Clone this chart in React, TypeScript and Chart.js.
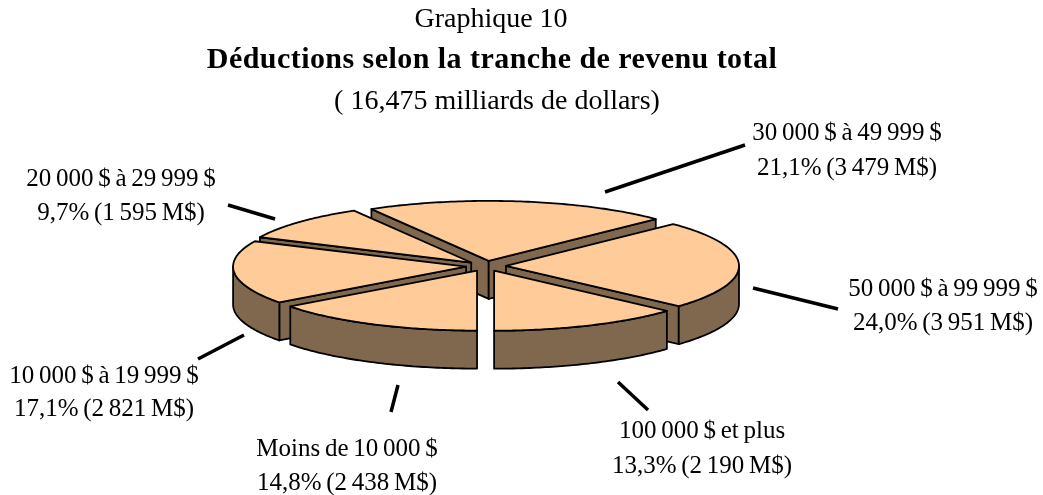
import React, { useEffect, useRef } from "react";
import { Chart, registerables } from "chart.js";

Chart.register(...registerables);

const categories = ["Moins de 10 000 $", "10 000 $ à 19 999 $", "20 000 $ à 29 999 $", "30 000 $ à 49 999 $", "50 000 $ à 99 999 $", "100 000 $ et plus"];
const values = [2438, 2821, 1595, 3479, 3951, 2190];
const valueLabels = ["14,8% (2 438 M$)", "17,1% (2 821 M$)", "9,7% (1 595 M$)", "21,1% (3 479 M$)", "24,0% (3 951 M$)", "13,3% (2 190 M$)"];
const titleLines = ["Graphique 10", "Déductions selon la tranche de revenu total", "( 16,475 milliards de dollars)"];

// layout only
const SQUASH = 0.2575;
const DEPTH = 38;
const EXPLODE = 20;
const TOP = "#FFCC99";
const SIDE = "#80684F";
const FONT = '"Liberation Serif", serif';
const labelCentres = [[347, 449, 483], [104, 376, 409], [121, 179, 213], [847, 133, 168], [943, 289, 323], [702, 431, 466]];
const leaders = [[398, 385, 391, 412], [244, 335, 198, 359], [275, 219, 228, 205], [605, 192, 745, 145], [753, 288, 838, 309], [618, 382, 648, 410]];

const pie3d = {
  id: "pie3d",
  beforeDatasetsDraw(chart: any) {
    const ctx = chart.ctx;
    const arcs: any[] = chart.getDatasetMeta(0).data;
    const order = arcs.slice().sort((a, b) => {
      const ma = (a.startAngle + a.endAngle) / 2, mb = (b.startAngle + b.endAngle) / 2;
      return Math.sin(ma) - Math.sin(mb);
    });
    for (const arc of order) {
      const { x: cx, y: cy, startAngle: s, endAngle: e, outerRadius: R } = arc;
      const mid = (s + e) / 2;
      const off = EXPLODE;
      const px = (a: number, r: number) => cx + Math.cos(mid) * off + r * Math.cos(a);
      const py = (a: number, r: number) => cy + SQUASH * (Math.sin(mid) * off + r * Math.sin(a));
      const style = () => {
        ctx.lineWidth = 1.8;
        ctx.lineJoin = "round";
        ctx.strokeStyle = "#000";
      };
      const wall = (a: number) => {
        ctx.beginPath();
        ctx.moveTo(px(a, 0), py(a, 0));
        ctx.lineTo(px(a, R), py(a, R));
        ctx.lineTo(px(a, R), py(a, R) + DEPTH);
        ctx.lineTo(px(a, 0), py(a, 0) + DEPTH);
        ctx.closePath();
        ctx.fillStyle = SIDE;
        ctx.fill();
        style();
        ctx.stroke();
      };
      // radial walls facing the viewer
      if (Math.sin(s - Math.PI / 2) > 0.001) wall(s);
      if (Math.sin(e + Math.PI / 2) > 0.001) wall(e);
      // outer wall: part of the rim on the near side
      const tau = Math.PI * 2;
      const ranges: number[][] = [];
      for (let k = -1; k <= 1; k++) {
        const lo = Math.max(s, k * tau), hi = Math.min(e, k * tau + Math.PI);
        if (hi > lo) ranges.push([lo, hi]);
      }
      for (const [lo, hi] of ranges) {
        ctx.beginPath();
        const n = 60;
        for (let i = 0; i <= n; i++) {
          const a = lo + ((hi - lo) * i) / n;
          if (i === 0) ctx.moveTo(px(a, R), py(a, R));
          else ctx.lineTo(px(a, R), py(a, R));
        }
        for (let i = n; i >= 0; i--) {
          const a = lo + ((hi - lo) * i) / n;
          ctx.lineTo(px(a, R), py(a, R) + DEPTH);
        }
        ctx.closePath();
        ctx.fillStyle = SIDE;
        ctx.fill();
        style();
        ctx.stroke();
      }
      // top face, drawn by the library's arc element under the squash transform
      ctx.save();
      ctx.translate(0, cy);
      ctx.scale(1, SQUASH);
      ctx.translate(0, -cy);
      ctx.translate(Math.cos(mid) * off, Math.sin(mid) * off);
      arc.draw(ctx);
      ctx.restore();
      // outline of the top face
      ctx.beginPath();
      ctx.moveTo(px(s, 0), py(s, 0));
      const n = 80;
      for (let i = 0; i <= n; i++) {
        const a = s + ((e - s) * i) / n;
        ctx.lineTo(px(a, R), py(a, R));
      }
      ctx.closePath();
      style();
      ctx.stroke();
    }
    return false;
  },
  afterDraw(chart: any) {
    const ctx = chart.ctx;
    ctx.save();
    ctx.fillStyle = "#000";
    ctx.textAlign = "center";
    ctx.textBaseline = "middle";
    ctx.font = `28px ${FONT}`;
    ctx.fillText(titleLines[0], 491, 20);
    ctx.font = `bold 30px ${FONT}`;
    (ctx as any).letterSpacing = "0.45px";
    ctx.fillText(titleLines[1], 492, 60);
    (ctx as any).letterSpacing = "0px";
    ctx.font = `28px ${FONT}`;
    ctx.fillText(titleLines[2], 497, 102);
    ctx.font = `25px ${FONT}`;
    (ctx as any).wordSpacing = "-1.5px";
    categories.forEach((c, i) => {
      const [x, y1, y2] = labelCentres[i];
      ctx.fillText(c, x, y1);
      ctx.fillText(valueLabels[i], x, y2);
    });
    (ctx as any).wordSpacing = "0px";
    ctx.strokeStyle = "#000";
    ctx.lineWidth = 3.5;
    leaders.forEach(([a, b, c, d]) => {
      ctx.beginPath();
      ctx.moveTo(a, b);
      ctx.lineTo(c, d);
      ctx.stroke();
    });
    ctx.restore();
  },
};

export default function App() {
  const ref = useRef<HTMLCanvasElement>(null);
  useEffect(() => {
    const chart = new Chart(ref.current as HTMLCanvasElement, {
      type: "pie",
      data: {
        labels: categories,
        datasets: [{ data: values, backgroundColor: TOP, borderWidth: 0, radius: 233, clip: false } as any],
      },
      options: {
        responsive: false,
        animation: false,
        events: [],
        rotation: 180,
        layout: { padding: { left: 0, right: 71, top: 37, bottom: 0 } },
        plugins: { legend: { display: false }, tooltip: { enabled: false }, title: { display: false } },
      },
      plugins: [pie3d as any],
    });
    return () => chart.destroy();
  }, []);
  return (
    <div style={{ position: "absolute", left: 0, top: 0, width: 1043, height: 495, background: "#fff" }}>
      <canvas ref={ref} width={1043} height={495} style={{ display: "block" }} />
    </div>
  );
}
